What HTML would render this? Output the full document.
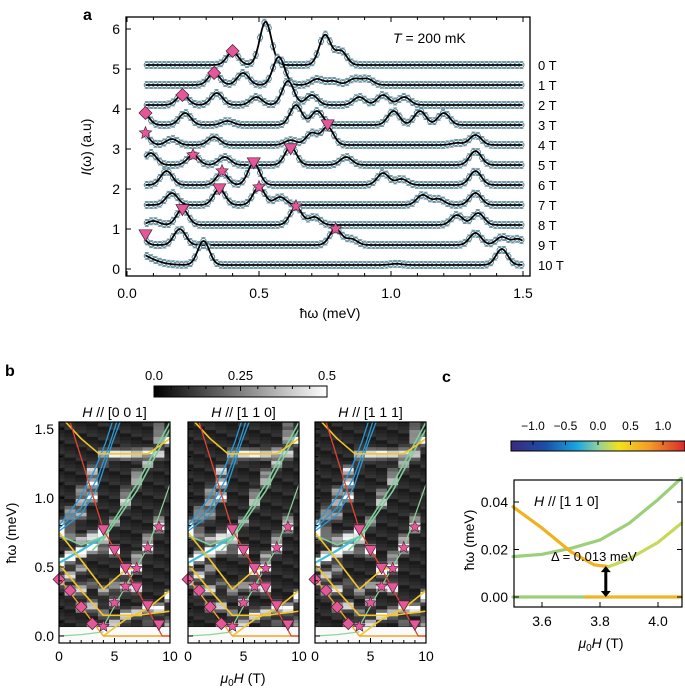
<!DOCTYPE html>
<html><head><meta charset="utf-8">
<style>
html,body{margin:0;padding:0;background:#fff;}
svg{display:block;font-family:"Liberation Sans",Arial,sans-serif;}
</style></head>
<body>
<svg id="fig" width="685" height="690" viewBox="0 0 685 690" xmlns="http://www.w3.org/2000/svg">
<defs>
<linearGradient id="greyGrad" x1="0" x2="1" y1="0" y2="0"><stop offset="0" stop-color="#000"/><stop offset="1" stop-color="#fff"/></linearGradient>
<linearGradient id="jetGrad" x1="0" x2="1" y1="0" y2="0">
<stop offset="0" stop-color="#3b2a7e"/><stop offset="0.2" stop-color="#1a4fa8"/><stop offset="0.38" stop-color="#19a7de"/><stop offset="0.5" stop-color="#8fd0a0"/><stop offset="0.62" stop-color="#f2e21c"/><stop offset="0.8" stop-color="#f39a26"/><stop offset="1" stop-color="#d8292e"/></linearGradient>
</defs>
<g id="pa"></g>
<g id="pb"></g>
<g id="pc"></g>
</svg>
<script>
// ===== Panel a data =====
const fieldLabels = ["0 T","1 T","2 T","3 T","4 T","5 T","6 T","7 T","8 T","9 T","10 T"];
const baselines = [5.1,4.6,4.1,3.6,3.1,2.6,2.1,1.6,1.1,0.6,0.1];
const peaks0 = [[0.40,0.33],[0.525,1.08],[0.75,0.75],[0.81,0.35]];
const peaks1 = [[0.33,0.30],[0.44,0.30],[0.575,0.70],[0.72,0.15],[0.78,0.10],[0.86,0.15],[0.91,0.15]];
const peaks2 = [[0.21,0.25],[0.34,0.30],[0.49,0.20],[0.61,0.60],[0.70,0.25],[0.88,0.20],[0.97,0.25],[1.05,0.20]];
const peaks3 = [[0.06,0.32],[0.22,0.30],[0.38,0.10],[0.64,0.50],[0.72,0.35],[1.01,0.35],[1.11,0.35],[1.20,0.30]];
const peaks4 = [[0.06,0.30],[0.17,0.15],[0.33,0.20],[0.62,0.12],[0.70,0.30],[0.76,0.45],[1.25,0.05],[1.32,0.25]];
const peaks5 = [[0.09,0.30],[0.25,0.25],[0.37,0.20],[0.62,0.45],[0.83,0.20],[1.32,0.35]];
const peaks6 = [[0.15,0.35],[0.36,0.30],[0.48,0.55],[0.97,0.30],[1.04,0.15],[1.32,0.35]];
const peaks7 = [[0.17,0.30],[0.35,0.40],[0.50,0.45],[0.58,0.20],[1.12,0.25],[1.18,0.15],[1.32,0.30]];
const peaks8 = [[0.10,0.10],[0.21,0.40],[0.64,0.45],[0.71,0.20],[1.25,0.25],[1.33,0.30]];
const peaks9 = [[0.04,0.32],[0.20,0.40],[0.79,0.40],[0.85,0.15],[1.32,0.30],[1.42,0.20],[1.48,0.15]];
const peaks10 = [[0.0,0.40,0.07],[0.29,0.60],[1.02,0.03],[1.42,0.40]];
const allPeaks = [peaks0,peaks1,peaks2,peaks3,peaks4,peaks5,peaks6,peaks7,peaks8,peaks9,peaks10];
const diamondMarks = [[0.40,5.45],[0.33,4.9],[0.21,4.35],[0.07,3.9]];
const starMarks = [[0.07,3.4],[0.25,2.85],[0.36,2.45],[0.50,2.05],[0.64,1.57],[0.79,1.0]];
const triMarks = [[0.76,3.6],[0.62,3.0],[0.48,2.65],[0.35,2.0],[0.21,1.48],[0.07,0.85]];
const xTicksA = [0.0,0.5,1.0,1.5];
const yTicksA = [0,1,2,3,4,5,6];

// ===== Panel b data =====
const bFields = [0,1,2,3,4,5,6,7,8,9,10];
const bDiamonds = [[0,0.41],[1,0.33],[2,0.21],[3,0.09]];
const bStars = [[4,0.07],[5,0.24],[6,0.36],[7,0.49],[8,0.64],[9,0.79]];
const bTris = [[4,0.77],[5,0.62],[6,0.49],[7,0.35],[8,0.22],[9,0.08]];
const lineRed = [[1.0,1.55],[4,0.77],[6,0.49],[9.3,0.0],[10,0.0]];
const lineYellowTop = [[0.6,1.55],[2,1.43],[3.6,1.32],[8,1.32],[10,1.43]];
const lineYellowMid = [[0,0.75],[2,0.55],[4,0.34],[5,0.41],[6,0.48],[7,0.5]];
const lineYellowLow = [[0,0.52],[2,0.33],[4,0.15],[7,0.15],[10,0.18]];
const lineYellowBot = [[0,0.42],[2,0.21],[4,0.0],[10,0.0]];
const lineYellowRise = [[4,0.0],[6,0.12],[8,0.2],[10,0.33]];
const lineBlue1 = [[0,0.78],[2,0.93],[3.5,1.15],[4.6,1.4],[5.2,1.55]];
const lineBlue2 = [[0,0.76],[2,0.88],[3.5,1.08],[4.8,1.4],[5.5,1.55]];
const lineBlue3 = [[0,0.80],[1.8,0.99],[3.2,1.2],[4.2,1.4],[4.8,1.55]];
const lineCyan = [[0,0.53],[2,0.62],[4,0.72]];
const lineGreen1 = [[0,0.73],[2,0.66],[4,0.72],[7,1.1],[10,1.55]];
const lineGreen2 = [[3,0.62],[4,0.7],[7,1.05],[10,1.5]];
const lineGreen3 = [[4,0.07],[6,0.36],[8,0.64],[10,1.1]];
const lineGreenBase = [[0,0.0],[2,0.01],[4,0.03]];
const yTicksB = [0.0,0.5,1.0,1.5];
const xTicksB = [0,5,10];
const bTitles = ["[0 0 1]","[1 1 0]","[1 1 1]"];

// ===== Panel c data =====
const cOrange = [[3.5,0.038],[3.6,0.029],[3.7,0.019],[3.78,0.0135],[3.83,0.0128],[3.9,0.016],[4.0,0.023],[4.08,0.031]];
const cGreen = [[3.5,0.017],[3.6,0.018],[3.7,0.0205],[3.8,0.024],[3.9,0.031],[4.0,0.041],[4.08,0.05]];
const cGap = [3.82,0.0,0.013];
const cXTicks = [3.6,3.8,4.0];
const cYTicks = [0.00,0.02,0.04];
const cbTicks = [-1.0,-0.5,0.0,0.5,1.0];

const NS="http://www.w3.org/2000/svg";
function mk(parent,tag,attrs,text){const e=document.createElementNS(NS,tag);for(const k in attrs)e.setAttribute(k,attrs[k]);if(text!==undefined)e.textContent=text;parent.appendChild(e);return e;}
function sig(p){return p.length>2?p[2]:0.022;}
function model(i,e){let v=baselines[i];for(const p of allPeaks[i]){const s=sig(p);v+=p[1]*Math.exp(-0.5*((e-p[0])/s)**2);}return v;}
const pink="#e4589a";
function diamond(g,x,y,r){return mk(g,'path',{d:`M${x} ${y-r}L${x+r} ${y}L${x} ${y+r}L${x-r} ${y}Z`,fill:pink,stroke:"#4a1a30","stroke-width":0.7});}
function tri(g,x,y,r){return mk(g,'path',{d:`M${x-r} ${y-r*0.8}L${x+r} ${y-r*0.8}L${x} ${y+r*0.9}Z`,fill:pink,stroke:"#4a1a30","stroke-width":0.7});}
function star(g,x,y,r){let d="";for(let k=0;k<10;k++){const a=-Math.PI/2+k*Math.PI/5;const rr=k%2?r*0.45:r;d+=(k?"L":"M")+(x+rr*Math.cos(a)).toFixed(1)+" "+(y+rr*Math.sin(a)).toFixed(1);}return mk(g,'path',{d:d+"Z",fill:pink,stroke:"#4a1a30","stroke-width":0.6});}

// ===== Panel a =====
(function(){
const g=document.getElementById('pa');
const X0=126,X1=530,Y0=17,Y1=276;
const xs=e=>127+e*264, ys=v=>269-v*40;
mk(g,'text',{x:83,y:20,"font-size":16,"font-weight":"bold",},"a");
const curves=mk(g,'g',{});
for(let i=0;i<allPeaks.length;i++){
  const sg=mk(curves,'g',{});
  
  
  for(let e=0.075;e<=1.5;e+=0.0165){const v=model(i,e);const cx=xs(e),cy=ys(v);
    mk(sg,'line',{x1:cx,x2:cx,y1:cy-3.5,y2:cy+3.5,stroke:"#5d8a9a","stroke-width":1});
    mk(sg,'line',{x1:cx-2,x2:cx+2,y1:cy-3.5,y2:cy-3.5,stroke:"#5d8a9a","stroke-width":0.8});
    mk(sg,'line',{x1:cx-2,x2:cx+2,y1:cy+3.5,y2:cy+3.5,stroke:"#5d8a9a","stroke-width":0.8});
    mk(sg,'circle',{cx:cx,cy:cy,r:2.6,fill:"#fff",stroke:"#5d8a9a","stroke-width":1});}
  let d="";for(let e=0.07;e<=1.5001;e+=0.004){d+=(d?"L":"M")+xs(e).toFixed(1)+" "+ys(model(i,e)).toFixed(1);}
  mk(sg,'path',{d:d,fill:"none",stroke:"#000","stroke-width":1.8});
  const t=mk(g,'text',{x:538,y:ys(baselines[i])+5,"font-size":13},fieldLabels[i]);
  
  
}
for(const m of diamondMarks){const el=diamond(g,xs(m[0]),ys(m[1]),6.5);}
for(const m of starMarks){const el=star(g,xs(m[0]),ys(m[1]),6.5);}
for(const m of triMarks){const el=tri(g,xs(m[0]),ys(m[1]),6.5);}
mk(g,'rect',{x:X0,y:Y0,width:X1-X0,height:Y1-Y0,fill:"none",stroke:"#000","stroke-width":1.3,});
for(let k=0;k<=15;k++){const x=xs(k*0.1);const L=k%5?3:5;mk(g,'line',{x1:x,x2:x,y1:Y1,y2:Y1-L,stroke:"#000"});mk(g,'line',{x1:x,x2:x,y1:Y0,y2:Y0+L,stroke:"#000"});}
for(const t of xTicksA){const el=mk(g,'text',{x:xs(t),y:298,"font-size":14,"text-anchor":"middle"},t.toFixed(1));}
for(const t of yTicksA){const y=ys(t);mk(g,'line',{x1:X0,x2:X0+5,y1:y,y2:y,stroke:"#000"});const el=mk(g,'text',{x:X0-6,y:y+5,"font-size":14,"text-anchor":"end"},t);}
mk(g,'text',{x:330,y:318,"font-size":14,"text-anchor":"middle",},"ħω (meV)");
const yl=mk(g,'text',{transform:"translate(91,147) rotate(-90)","font-size":14,"text-anchor":"middle",});
mk(yl,'tspan',{"font-style":"italic"},"I");mk(yl,'tspan',{},"(ω) (a.u)");
const tt=mk(g,'text',{x:393,y:43,"font-size":14,});
mk(tt,'tspan',{"font-style":"italic"},"T");mk(tt,'tspan',{}," = 200 mK");
})();

// ===== Panel b =====
(function(){
const g=document.getElementById('pb');
mk(g,'text',{x:5,y:376,"font-size":16,"font-weight":"bold",},"b");
mk(g,'rect',{x:154,y:386,width:173,height:11,fill:"url(#greyGrad)",stroke:"#000","stroke-width":1,});
for(let k=0;k<=10;k++){const x=154+k*17.3;mk(g,'line',{x1:x,x2:x,y1:386,y2:k%5?389:391,stroke:"#000"});}
[["0.0",0],["0.25",0.5],["0.5",1]].forEach(a=>{const el=mk(g,'text',{x:154+a[1]*173,y:380,"font-size":13,"text-anchor":"middle"},a[0]);});
const lefts=[59,188,315];const W=111;const ys=e=>636-138*e;
for(let p=0;p<3;p++){
  const L=lefts[p];const xs=f=>L+f*W/10;
  const pg=mk(g,'g',{});
  
  
  mk(pg,'rect',{x:L,y:422,width:W,height:221,fill:"#080808"});
  for(let fi=0;fi<bFields.length;fi++){
    const f=bFields[fi];const x0=Math.max(L,xs(f-0.5)),x1=Math.min(L+W,xs(f+0.5));
    for(let e=0.07;e<1.56;e+=0.025){
      const ee=Math.min(e+0.0125,1.5);
      let v=1.25*(model(fi,ee)-baselines[fi])+0.05+0.05*((fi*7+Math.round(e*40)*3+p)%4)/3;
      v=Math.max(0,Math.min(0.5,v));const c=Math.round(v/0.5*255);
      const y1=ys(e),y2=ys(Math.min(e+0.025,1.56));
      mk(pg,'rect',{x:x0,y:Math.max(422,y2),width:x1-x0,height:Math.max(0,y1-Math.max(422,y2)+0.3),fill:`rgb(${c},${c},${c})`});
    }
  }
  mk(pg,'rect',{x:L,y:ys(0.065),width:W,height:ys(0)-ys(0.065)+7,fill:"#fafafa"});
  const line=(pts,col,w)=>{let d="";for(const q of pts)d+=(d?"L":"M")+xs(q[0]).toFixed(1)+" "+Math.max(422,ys(q[1])).toFixed(1);return mk(pg,'path',{d:d,fill:"none",stroke:col,"stroke-width":w,"stroke-linejoin":"round"});};
  [lineBlue1,lineBlue2,lineBlue3].forEach(l=>{const el=line(l,"#2a9ad6",1.3);});
  let el;
  el=line(lineCyan,"#3ec0d8",2.2);
  [lineGreen1,lineGreen2].forEach(l=>{const e2=line(l,"#7ecf9a",1.6);});
  el=line(lineGreen3,"#8ed49a",1.2);
  el=line(lineGreenBase,"#8ed49a",1.2);
  [lineYellowTop,lineYellowMid,lineYellowLow,lineYellowRise].forEach(l=>{const e2=line(l,"#f4c52a",1.6);});
  el=line(lineYellowBot,"#f0a52a",1.4);
  el=line(lineRed,"#e0452e",1.3);
  for(const m of bDiamonds){const e2=diamond(pg,xs(m[0]),ys(m[1]),6);}
  for(const m of bStars){const e2=star(pg,xs(m[0]),ys(m[1]),6);}
  for(const m of bTris){const e2=tri(pg,xs(m[0]),ys(m[1]),6);}
  mk(pg,'rect',{x:L,y:422,width:W,height:221,fill:"none",stroke:"#000","stroke-width":1.2});
  for(let k=0;k<=10;k++){const x=xs(k);mk(pg,'line',{x1:x,x2:x,y1:643,y2:k%5?640:638,stroke:"#000"});}
  for(const t of xTicksB){const e2=mk(pg,'text',{x:xs(t),y:661,"font-size":14,"text-anchor":"middle"},t);}
  for(let k=0;k<=15;k++){const y=ys(k*0.1);mk(pg,'line',{x1:L,x2:L+(k%5?3:5),y1:y,y2:y,stroke:"#000"});}
  const tt=mk(pg,'text',{x:L+W/2,y:417,"font-size":14,"text-anchor":"middle"});
  
  
  mk(tt,'tspan',{"font-style":"italic"},"H");mk(tt,'tspan',{}," // "+bTitles[p]);
}
for(const t of yTicksB){const el=mk(g,'text',{x:54,y:ys(t)+5,"font-size":14,"text-anchor":"end"},t.toFixed(1));}
mk(g,'text',{transform:"translate(16,533) rotate(-90)","font-size":14,"text-anchor":"middle",},"ħω (meV)");
const xl=mk(g,'text',{x:243,y:683,"font-size":14,"text-anchor":"middle",});
mk(xl,'tspan',{"font-style":"italic"},"μ");mk(xl,'tspan',{"font-size":10,dy:3},"0");mk(xl,'tspan',{"font-style":"italic",dy:-3},"H");mk(xl,'tspan',{}," (T)");
})();

// ===== Panel c =====
(function(){
const g=document.getElementById('pc');
mk(g,'text',{x:442,y:382,"font-size":16,"font-weight":"bold",},"c");
const cbx=v=>598+v*65;
mk(g,'rect',{x:511,y:441,width:174,height:10,fill:"url(#jetGrad)",stroke:"#000","stroke-width":1,});
for(const t of cbTicks){mk(g,'line',{x1:cbx(t),x2:cbx(t),y1:441,y2:445,stroke:"#000"});const el=mk(g,'text',{x:cbx(t),y:430,"font-size":12,"text-anchor":"middle"},(t<0?"\u2212"+Math.abs(t).toFixed(1):t.toFixed(1)));}
const xs=h=>542+(h-3.6)*290, ys=v=>597-v*2375;
const X0=514,X1=682,Y0=480,Y1=607;
const cl=mk(g,'g',{});


const path=(pts,col,w)=>{let d="";for(const q of pts)d+=(d?"L":"M")+xs(q[0]).toFixed(1)+" "+ys(q[1]).toFixed(1);return mk(cl,'path',{d:d,fill:"none",stroke:col,"stroke-width":w,"stroke-linejoin":"round","stroke-linecap":"round"});};
let el=path(cGreen,"#9ccf7a",3.2);
el=path(cOrange.slice(0,5),"#f1b21f",3.2);
el=path(cOrange.slice(4),"#c8d85a",3.2);
el=path([[3.5,0],[3.75,0]],"#9ccf7a",3.2);
el=path([[3.75,0],[4.08,0]],"#f2b325",3.2);
const ax=xs(cGap[0]);
mk(cl,'line',{x1:ax,x2:ax,y1:ys(cGap[1])-5,y2:ys(cGap[2])+5,stroke:"#000","stroke-width":3,});
mk(cl,'path',{d:`M${ax-5} ${ys(cGap[2])+6}L${ax+5} ${ys(cGap[2])+6}L${ax} ${ys(cGap[2])}Z`,fill:"#000"});
mk(cl,'path',{d:`M${ax-5} ${ys(cGap[1])-6}L${ax+5} ${ys(cGap[1])-6}L${ax} ${ys(cGap[1])}Z`,fill:"#000"});
mk(g,'text',{x:551,y:561,"font-size":13,},"Δ = 0.013 meV");
const ht=mk(g,'text',{x:534,y:506,"font-size":14,});
mk(ht,'tspan',{"font-style":"italic"},"H");mk(ht,'tspan',{}," // [1 1 0]");
mk(g,'rect',{x:X0,y:Y0,width:X1-X0,height:Y1-Y0,fill:"none",stroke:"#000","stroke-width":1.2,});
for(const t of cXTicks){mk(g,'line',{x1:xs(t),x2:xs(t),y1:Y1,y2:Y1-5,stroke:"#000"});const e2=mk(g,'text',{x:xs(t),y:626,"font-size":14,"text-anchor":"middle"},t.toFixed(1));}
for(const t of cYTicks){mk(g,'line',{x1:X0,x2:X0+5,y1:ys(t),y2:ys(t),stroke:"#000"});mk(g,'line',{x1:X1,x2:X1-5,y1:ys(t),y2:ys(t),stroke:"#000"});const e2=mk(g,'text',{x:X0-6,y:ys(t)+5,"font-size":14,"text-anchor":"end"},t.toFixed(2));}
mk(g,'text',{transform:"translate(474,540) rotate(-90)","font-size":14,"text-anchor":"middle",},"ħω (meV)");
const xl=mk(g,'text',{x:601,y:648,"font-size":14,"text-anchor":"middle",});
mk(xl,'tspan',{"font-style":"italic"},"μ");mk(xl,'tspan',{"font-size":10,dy:3},"0");mk(xl,'tspan',{"font-style":"italic",dy:-3},"H");mk(xl,'tspan',{}," (T)");
})();
</script>
</body></html>
